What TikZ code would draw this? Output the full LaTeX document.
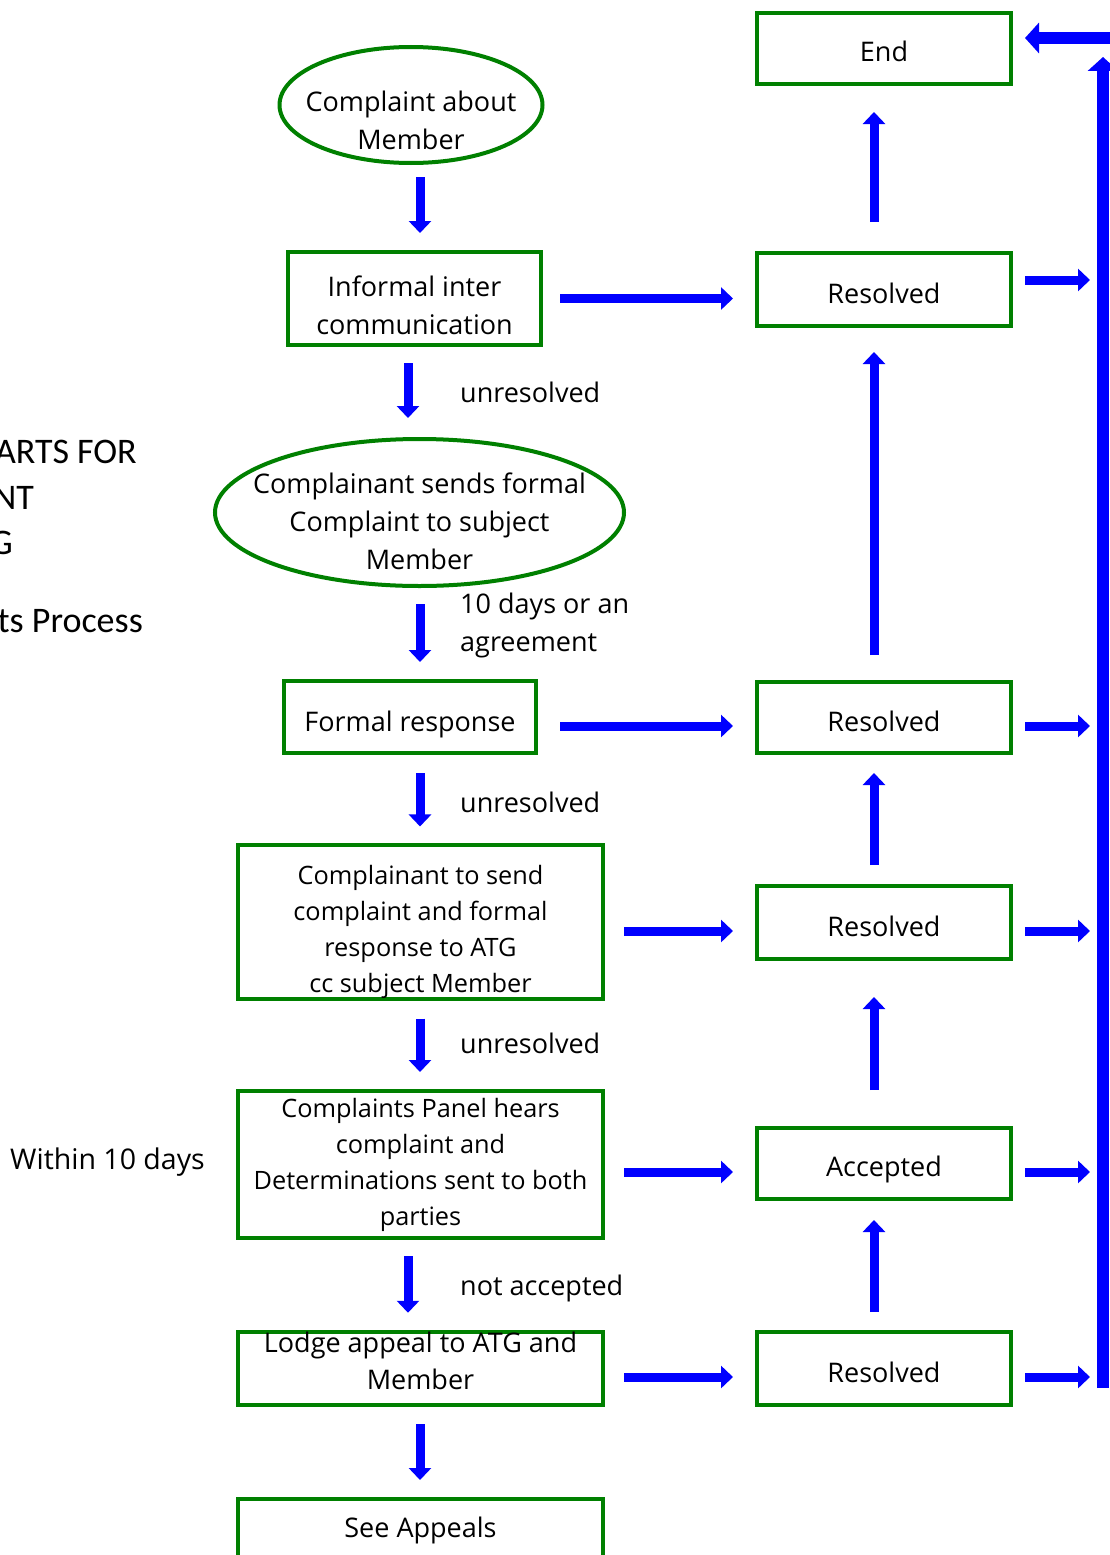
\documentclass[tikz,border=0pt]{standalone}
\usepackage{fontspec}
\setmainfont{Open Sans}
\newfontfamily\calib{Carlito}
\usetikzlibrary{arrows.meta,shapes.geometric,calc}
\definecolor{bgreen}{RGB}{0,128,0}
\definecolor{bblue}{RGB}{0,0,255}
\newcommand\txtlift[1]{\rule{0pt}{#1}}
\newcommand\txtdrop[1]{\rule[-#1]{0pt}{0pt}}
\begin{document}
\begin{tikzpicture}[x=1pt,y=-1pt,
  txt/.style={font=\fontsize{27}{37}\selectfont},
  wide/.style={font=\fontsize{27}{38}\selectfont},
  tight/.style={font=\fontsize{25.3}{36}\selectfont},
  box/.style={draw=bgreen, line width=4pt, rectangle, align=center, inner sep=0pt, txt},
  oval/.style={draw=bgreen, line width=4pt, ellipse, align=center, inner sep=-30pt, wide},
  lbl/.style={anchor=west, align=left, inner sep=0pt, txt},
  ttl/.style={anchor=base east, inner sep=0pt, font=\calib\fontsize{36}{46}\selectfont},
  arr/.style={draw=bblue, line width=9pt, -{Triangle[width=22pt,length=12pt]}},
  bigarr/.style={draw=bblue, line width=12pt, -{Triangle[width=30pt,length=14pt]}}]
\clip (0,0) rectangle (1110,1555);
\fill[white] (0,0) rectangle (1110,1555);

% column guides
\coordinate (cA) at (420,0);
\coordinate (cB) at (408,0);
\coordinate (cR) at (874,0);
\coordinate (bar) at (1103,0);
\coordinate (barR) at (1116,0);
\coordinate (bartop) at (1103,57);
\coordinate (barbot) at (1103,1388);

% left title fragments
\node[ttl] (t1) at (137,463) {ARTS FOR};
\node[ttl] (t2) at (34,509) {NT};
\node[ttl] (t3) at (13,554) {G};
\node[ttl] (t4) at (143,632) {ts Process};
\node[anchor=west, inner sep=0pt, font=\fontsize{28.5}{36}\selectfont] (w10) at (10,1162) {Within 10 days};

% left column
\node[oval, minimum width=263pt, minimum height=116pt] (e1) at (411,105) {\txtlift{50.5pt}Complaint about\\Member};
\node[box, wide, minimum width=253pt, minimum height=93pt] (b1) at (414.5,298.5) {\txtlift{34.5pt}Informal inter\\communication};
\node[oval, minimum width=409pt, minimum height=147pt] (e2) at (419.5,512.5) {\txtlift{37.5pt}Complainant sends formal\\Complaint to subject\\Member};
\node[box, minimum width=252pt, minimum height=72pt] (b2) at (410,717) {\txtlift{34.5pt}Formal response};
\node[box, tight, minimum width=365pt, minimum height=146pt] (b3) at (420.5,922) {\txtlift{39pt}Complainant to send\\complaint and formal\\response to ATG\\cc subject Member};
\node[box, tight, minimum width=365pt, minimum height=147pt] (b4) at (420.5,1164.5) {Complaints Panel hears\\complaint and\\Determinations sent to both\\parties};
\node[box, minimum width=365pt, minimum height=73pt] (b5) at (420.5,1368.5) {Lodge appeal to ATG and\\Member\txtdrop{16pt}};
\node[box, minimum width=365pt, minimum height=62pt] (b6) at (420.5,1530) {See Appeals};

% right column
\node[box, minimum width=254pt, minimum height=71pt] (end) at (884,48.5) {\txtlift{26.5pt}End};
\node[box, minimum width=254pt, minimum height=73pt] (r1) at (884,289.5) {\txtlift{28.5pt}Resolved};
\node[box, minimum width=254pt, minimum height=71pt] (r2) at (884,717.5) {\txtlift{28.5pt}Resolved};
\node[box, minimum width=254pt, minimum height=73pt] (r3) at (884,922.5) {\txtlift{28.5pt}Resolved};
\node[box, minimum width=254pt, minimum height=71pt] (acc) at (884,1163.5) {\txtlift{32.5pt}Accepted};
\node[box, minimum width=254pt, minimum height=73pt] (r4) at (884,1368.5) {\txtlift{28.5pt}Resolved};

% labels
\node[lbl] (l1) at (460,392) {unresolved};
\node[lbl, wide] (l2) at (460,625) {10 days or an\\agreement};
\node[lbl] (l3) at (460,802) {unresolved};
\node[lbl] (l4) at (460,1043) {unresolved};
\node[lbl] (l5) at (460,1288) {not accepted};

% down arrows
\draw[arr, shorten <=12pt, shorten >=17pt] (e1.south -| cA) -- (b1.north -| cA);
\draw[arr, shorten <=16pt, shorten >=19pt] (b1.south -| cB) -- (e2.north -| cB);
\draw[arr, shorten <=16pt, shorten >=17pt] (e2.south -| cA) -- (b2.north -| cA);
\draw[arr, shorten <=18pt, shorten >=17pt] (b2.south -| cA) -- (b3.north -| cA);
\draw[arr, shorten <=18pt, shorten >=17pt] (b3.south -| cA) -- (b4.north -| cA);
\draw[arr, shorten <=16pt, shorten >=17pt] (b4.south -| cB) -- (b5.north -| cB);
\draw[arr, shorten <=17pt, shorten >=17pt] (b5.south -| cA) -- (b6.north -| cA);

% left to right arrows
\draw[arr, shorten <=17pt, shorten >=22pt] (b1.east) -- (b1.east -| r1.west);
\draw[arr, shorten <=22pt, shorten >=22pt] ([yshift=-9pt]b2.east) -- ([yshift=-9pt]b2.east -| r2.west);
\draw[arr, shorten <=19pt, shorten >=22pt] ([yshift=-9pt]b3.east) -- ([yshift=-9pt]b3.east -| r3.west);
\draw[arr, shorten <=19pt, shorten >=22pt] ([yshift=-7.5pt]b4.east) -- ([yshift=-7.5pt]b4.east -| acc.west);
\draw[arr, shorten <=19pt, shorten >=22pt] ([yshift=-8.5pt]b5.east) -- ([yshift=-8.5pt]b5.east -| r4.west);

% up arrows
\draw[arr, shorten <=29pt, shorten >=26pt] (r1.north -| cR) -- (end.south -| cR);
\draw[arr, shorten <=25pt, shorten >=24pt] (r2.north -| cR) -- (r1.south -| cR);
\draw[arr, shorten <=19pt, shorten >=18pt] (r3.north -| cR) -- (r2.south -| cR);
\draw[arr, shorten <=36pt, shorten >=36pt] (acc.north -| cR) -- (r3.south -| cR);
\draw[arr, shorten <=18pt, shorten >=19pt] (r4.north -| cR) -- (acc.south -| cR);

% right arrows to bar
\draw[arr, shorten <=12pt, shorten >=13pt] ([yshift=9.5pt]r1.east) -- ([yshift=9.5pt]r1.east -| bar);
\draw[arr, shorten <=12pt, shorten >=13pt] ([yshift=-8.5pt]r2.east) -- ([yshift=-8.5pt]r2.east -| bar);
\draw[arr, shorten <=12pt, shorten >=13pt] ([yshift=-8.5pt]r3.east) -- ([yshift=-8.5pt]r3.east -| bar);
\draw[arr, shorten <=12pt, shorten >=13pt] ([yshift=-8.5pt]acc.east) -- ([yshift=-8.5pt]acc.east -| bar);
\draw[arr, shorten <=12pt, shorten >=13pt] ([yshift=-8.5pt]r4.east) -- ([yshift=-8.5pt]r4.east -| bar);

% return bar
\draw[bigarr] (barbot) -- (bartop);
\draw[bigarr, shorten >=12pt] ([yshift=10.5pt]end.east -| barR) -- ([yshift=10.5pt]end.east);
\end{tikzpicture}
\end{document}
